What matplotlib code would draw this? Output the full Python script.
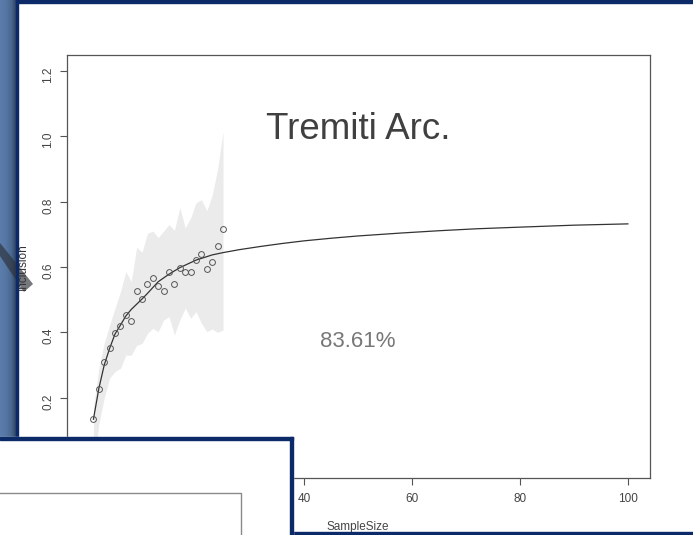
import numpy as np
import matplotlib.pyplot as plt
from matplotlib.patches import Rectangle, Polygon
from matplotlib.colors import LinearSegmentedColormap


# ----------------------------
# Data
# ----------------------------

sample_size = [1, 2, 3, 4, 5, 6, 7, 8, 9, 10, 11, 12, 13,
               14, 15, 16, 17, 18, 19, 20, 21, 22, 23, 24, 25]

inclusion = [0.134, 0.228, 0.308, 0.351, 0.397, 0.420, 0.453, 0.435, 0.527,
             0.502, 0.547, 0.566, 0.543, 0.527, 0.584, 0.547, 0.598, 0.586,
             0.586, 0.622, 0.641, 0.595, 0.615, 0.665, 0.717]

band_upper = [0.17, 0.29, 0.368, 0.422, 0.474, 0.524, 0.586, 0.555, 0.66,
              0.645, 0.703, 0.71, 0.69, 0.71, 0.73, 0.712, 0.782, 0.72,
              0.75, 0.797, 0.806, 0.772, 0.82, 0.90, 1.014]

band_lower = [-0.02, 0.12, 0.20, 0.26, 0.28, 0.29, 0.33, 0.33, 0.36,
              0.366, 0.397, 0.412, 0.402, 0.438, 0.448, 0.392, 0.438, 0.474,
              0.443, 0.463, 0.428, 0.402, 0.41, 0.40, 0.407]

curve_x = [1, 2, 3, 4, 5, 6, 7, 8, 10, 11, 13, 15, 17, 20, 23, 25,
           28, 32, 36, 40, 45, 50, 58, 65, 72, 80, 90, 100]

curve_y = [0.134, 0.228, 0.300, 0.351, 0.395, 0.422, 0.450, 0.470, 0.502,
           0.519, 0.555, 0.578, 0.598, 0.621, 0.637, 0.644, 0.653, 0.663,
           0.672, 0.680, 0.688, 0.695, 0.704, 0.711, 0.717, 0.722, 0.728,
           0.732]

x_ticks = [0, 20, 40, 60, 80, 100]
y_ticks = [0.0, 0.2, 0.4, 0.6, 0.8, 1.0, 1.2]

title_text = "Tremiti Arc."
percent_text = "83.61%"


# ----------------------------
# Figure
# ----------------------------

W, H = 693, 535
NAVY = "#0c2a68"

plt.rcParams["font.family"] = ["Liberation Sans", "DejaVu Sans"]

fig = plt.figure(figsize=(W / 100, H / 100), dpi=100)

# pixel canvas behind everything
bg = fig.add_axes([0, 0, 1, 1], zorder=0)
bg.set_xlim(0, W)
bg.set_ylim(H, 0)
bg.axis("off")

strip = LinearSegmentedColormap.from_list(
    "strip", ["#5b7dab", "#5677a4", "#4a6890", "#2b3f5e"]
)
bg.imshow(
    np.linspace(0, 1, 64).reshape(1, -1),
    cmap=strip,
    extent=(0, 17, H, 0),
    aspect="auto",
)

bg.add_patch(Rectangle((17, 0), W - 17, H, color="white", zorder=1))

# diagonal shadow near the y label
bg.add_patch(Polygon(
    [(0, 243), (0, 256), (24, 292), (33, 284), (29, 279)],
    closed=True, facecolor="#2c3038", alpha=0.65, edgecolor="none", zorder=2
))

bg.text(23, 267, "Inclusion", rotation=90, ha="center", va="center",
        fontsize=8.5, color="#333333", zorder=3)

bg.text(358, 527, "SampleSize", ha="center", va="center",
        fontsize=8.5, color="#444444", zorder=3)


# ----------------------------
# Plot
# ----------------------------

ax = fig.add_axes(
    [67 / W, (H - 478) / H, (650 - 67) / W, (478 - 55) / H],
    zorder=1,
)
ax.patch.set_alpha(0)

ax.fill_between(sample_size, band_lower, band_upper,
                color="#ebebeb", linewidth=0)

ax.plot(curve_x, curve_y, color="#333333", linewidth=0.9)

ax.plot(sample_size, inclusion, linestyle="none", marker="o",
        markersize=4.2, markerfacecolor="none",
        markeredgecolor="#555555", markeredgewidth=0.7)

ax.text(50, 0.991, title_text, ha="center", va="baseline",
        fontsize=26.5, color="#404040")

ax.text(50, 0.354, percent_text, ha="center", va="baseline",
        fontsize=16, color="#777777")

ax.set_xlim(-3.9, 104.1)
ax.set_ylim(-0.046, 1.249)
ax.set_xticks(x_ticks)
ax.set_yticks(y_ticks)
ax.set_yticklabels([f"{v:.1f}" for v in y_ticks])

ax.tick_params(axis="both", direction="out", length=5, width=0.8,
               color="#555555", labelsize=8.5, labelcolor="#444444")
ax.tick_params(axis="y", labelrotation=90, pad=4)
ax.tick_params(axis="x", pad=6)

for spine in ax.spines.values():
    spine.set_color("#555555")
    spine.set_linewidth(0.9)


# ----------------------------
# Slide borders on top
# ----------------------------

top = fig.add_axes([0, 0, 1, 1], zorder=2)
top.set_xlim(0, W)
top.set_ylim(H, 0)
top.axis("off")

top.add_patch(Rectangle((15.5, 0), W - 15.5, 2.5, color=NAVY))
top.add_patch(Rectangle((15.5, 0), 2.5, H, color=NAVY))
top.add_patch(Rectangle((0, 531.5), W, 3.5, color=NAVY))

# second slide overlapping the bottom-left corner
top.add_patch(Rectangle((0, 437), 293, H - 437, color="white"))
top.add_patch(Rectangle((0, 437), 293, 3, color=NAVY))
top.add_patch(Rectangle((290, 437), 3, H - 437, color=NAVY))
top.plot([0, 241, 241], [493, 493, H], color="#8a8a8a", linewidth=1)

fig.savefig("out.png", dpi=100)
